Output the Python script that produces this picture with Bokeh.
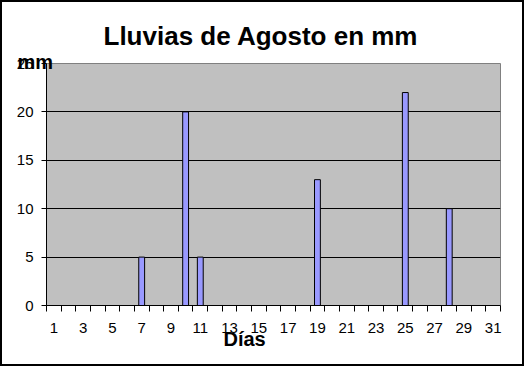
from bokeh.plotting import figure
from bokeh.models import FixedTicker, Range1d, Title
from bokeh.embed import file_html
from bokeh.resources import INLINE

# ---- data ----
days = list(range(1, 32))
rain_mm = [0, 0, 0, 0, 0, 0, 5, 0, 0, 20, 5, 0, 0, 0, 0, 0, 0, 0, 13, 0,
           0, 0, 0, 0, 22, 0, 0, 10, 0, 0, 0]
x_tick_labels = [str(d) for d in days if d % 2 == 1]
y_ticks = [0, 5, 10, 15, 20, 25]
title_text = "Lluvias de Agosto en mm"
x_title = "Días"
y_title = "mm"

FONT = "Liberation Sans"

bar_x = [d for d, r in zip(days, rain_mm) if r > 0]
bar_top = [r for r in rain_mm if r > 0]

p = figure(width=524, height=366, output_backend="svg", toolbar_location=None,
           x_range=Range1d(0.5, 31.5), y_range=Range1d(0, 25),
           min_border_left=44, min_border_right=26, min_border_top=61, min_border_bottom=63)
p.styles = {"border": "2px solid black"}
p.background_fill_color = "#C0C0C0"
p.border_fill_color = "white"
p.outline_line_color = "#808080"
p.outline_line_width = 1

p.vbar(x=bar_x, top=bar_top, bottom=0, width=0.4,
       fill_color="#9999FF", line_color="black", line_width=1)

# x axis
p.xaxis.ticker = FixedTicker(ticks=[int(s) for s in x_tick_labels],
                             minor_ticks=[d - 0.5 for d in days] + [days[-1] + 0.5])
p.xaxis.major_tick_line_color = None
p.xaxis.minor_tick_line_color = "black"
p.xaxis.minor_tick_in = 0
p.xaxis.minor_tick_out = 6
p.xaxis.axis_line_color = "black"
p.xaxis.major_label_text_font = FONT
p.xaxis.major_label_text_font_size = "15px"
p.xaxis.major_label_text_color = "black"
p.xaxis.major_label_standoff = 11
p.xgrid.grid_line_color = None

# y axis
p.yaxis.ticker = FixedTicker(ticks=y_ticks)
p.yaxis.minor_tick_line_color = None
p.yaxis.major_tick_line_color = "black"
p.yaxis.major_tick_in = 0
p.yaxis.major_tick_out = 5
p.yaxis.axis_line_color = "black"
p.yaxis.major_label_text_font = FONT
p.yaxis.major_label_text_font_size = "15px"
p.yaxis.major_label_text_color = "black"
p.yaxis.major_label_standoff = 8
p.ygrid.ticker = FixedTicker(ticks=y_ticks[1:-1])
p.ygrid.grid_line_color = "black"
p.ygrid.grid_line_width = 1

# y-axis title (closest to the frame), then main title
p.add_layout(Title(text=y_title, text_font=FONT, text_font_size="20px",
                   text_font_style="bold", text_color="black", align="left",
                   offset=-29, standoff=-18), "above")
p.add_layout(Title(text=title_text, text_font=FONT, text_font_size="26px",
                   text_font_style="bold", text_color="black", align="left",
                   offset=57, standoff=13), "above")
# x-axis title
p.add_layout(Title(text=x_title, text_font=FONT, text_font_size="20px",
                   text_font_style="bold", text_color="black", align="left",
                   offset=177, standoff=-20), "below")

open("out.html", "w").write(file_html(p, INLINE))
